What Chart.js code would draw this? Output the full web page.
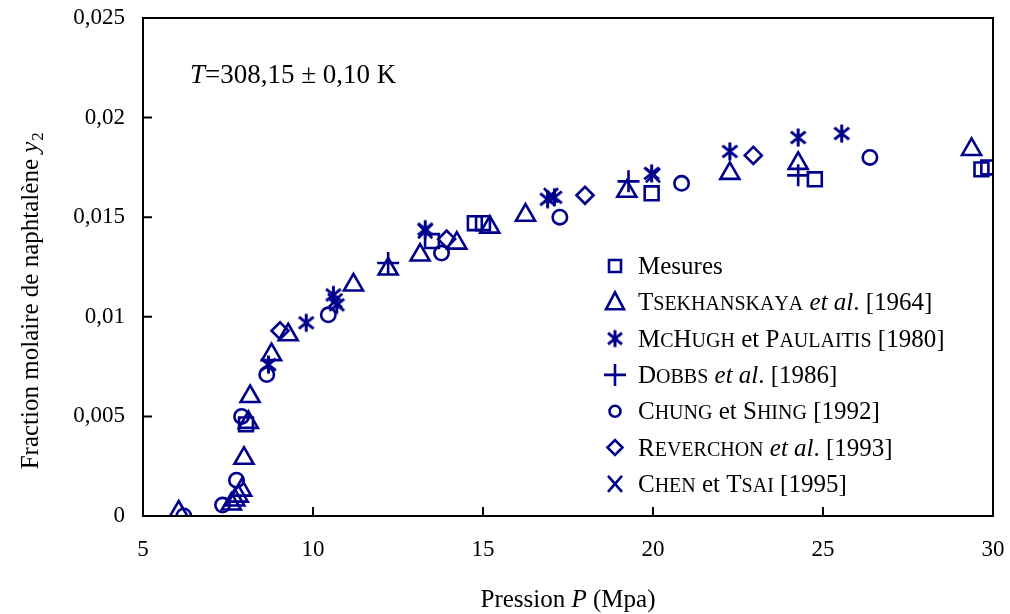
<!DOCTYPE html>
<html>
<head>
<meta charset="utf-8">
<script src="https://cdn.jsdelivr.net/npm/chart.js"></script>
<style>
body { margin: 0; background: #fff; }
canvas { display: block; }
</style>
</head>
<body>
<canvas id="myChart" width="1010" height="614"></canvas>
<script>
// pressure (MPa) / mole fraction y2 for each source
var mesuresX = [8.03, 13.5, 14.76, 15.0, 19.96, 24.76, 29.66, 29.86];
var mesuresY = [0.0046, 0.0138, 0.0147, 0.0147, 0.0162, 0.0169, 0.0174, 0.0175];

var tsekX = [6.05, 7.6, 7.7, 7.8, 7.9, 7.97, 8.1, 8.15, 8.78, 9.27, 11.19, 12.21, 13.15, 14.23, 15.2, 16.25, 19.23, 22.26, 24.27, 29.37];
var tsekY = [0.0002, 0.0006, 0.0008, 0.001, 0.0013, 0.0029, 0.0047, 0.006, 0.0081, 0.0091, 0.0116, 0.0124, 0.0131, 0.0137, 0.0145, 0.0151, 0.0163, 0.0172, 0.0177, 0.0184];

var mchughX = [8.69, 9.8, 10.6, 10.7, 13.3, 16.9, 17.1, 19.96, 22.26, 24.27, 25.55];
var mchughY = [0.0076, 0.0097, 0.0111, 0.0106, 0.0144, 0.0159, 0.016, 0.0172, 0.0183, 0.019, 0.0192];

var dobbsX = [12.21, 19.28, 24.27];
var dobbsY = [0.0127, 0.0168, 0.0171];

var chungX = [6.2, 7.34, 7.75, 7.9, 8.64, 10.45, 13.78, 17.26, 20.84, 26.38];
var chungY = [0.0, 0.00055, 0.0018, 0.005, 0.0071, 0.0101, 0.0132, 0.015, 0.0167, 0.018];

var reverchonX = [9.03, 13.93, 18.0, 22.95];
var reverchonY = [0.0093, 0.0139, 0.0161, 0.0181];

var chenX = [10.65, 13.3, 17.0, 20.0];
var chenY = [0.0108, 0.0143, 0.0161, 0.0171];

var yTicks = [0, 0.005, 0.01, 0.015, 0.02, 0.025];
var xTicks = [5, 10, 15, 20, 25, 30];

var navy = '#00008c';
var serif = "'Liberation Serif', 'DejaVu Serif', serif";

function pts(xs, ys) {
    var out = [];
    for (var i = 0; i < xs.length; i++) out.push({x: xs[i], y: ys[i]});
    return out;
}

// asterisk without horizontal bar (McHugh marker)
function makeStar(size, lw) {
    var c = document.createElement('canvas');
    c.width = size; c.height = size;
    var g = c.getContext('2d');
    var m = size / 2, r = size / 2 - 1.5, d = r * 0.82;
    g.strokeStyle = navy;
    g.lineWidth = lw;
    g.beginPath();
    g.moveTo(m, m - r); g.lineTo(m, m + r);
    g.moveTo(m - d, m - d * 0.8); g.lineTo(m + d, m + d * 0.8);
    g.moveTo(m + d, m - d * 0.8); g.lineTo(m - d, m + d * 0.8);
    g.stroke();
    return c;
}
var starImg = makeStar(21, 3);
var starLegend = makeStar(20, 3);

function ds(label, xs, ys, style, r) {
    return {
        label: label,
        data: pts(xs, ys),
        showLine: false,
        pointStyle: style,
        pointRadius: r,
        pointHoverRadius: r,
        borderColor: navy,
        backgroundColor: 'rgba(0,0,0,0)',
        pointBorderWidth: 2.6,
        borderWidth: 2.6
    };
}

var datas = [
    ds('Mesures', mesuresX, mesuresY, 'rect', 9.8),
    ds('Tsekhanskaya', tsekX, tsekY, 'triangle', 11),
    ds('McHugh', mchughX, mchughY, starImg, 10.5),
    ds('Dobbs', dobbsX, dobbsY, 'cross', 11),
    ds('Chung', chungX, chungY, 'circle', 7.2),
    ds('Reverchon', reverchonX, reverchonY, 'rectRot', 8.5),
    ds('Chen', chenX, chenY, 'crossRot', 10)
];

// legend rows: [text, kind] kind: n normal, s small caps, i italic
var legendRows = [
    {mark: 'rect', parts: [['Mesures', 'n']]},
    {mark: 'triangle', parts: [['Tsekhanskaya', 's'], [' et al', 'i'], ['. [1964]', 'n']]},
    {mark: 'star', parts: [['McHugh', 's'], [' et ', 'n'], ['Paulaitis', 's'], [' [1980]', 'n']]},
    {mark: 'cross', parts: [['Dobbs', 's'], [' et al', 'i'], ['. [1986]', 'n']]},
    {mark: 'circle', parts: [['Chung', 's'], [' et ', 'n'], ['Shing', 's'], [' [1992]', 'n']]},
    {mark: 'rectRot', parts: [['Reverchon', 's'], [' et al', 'i'], ['. [1993]', 'n']]},
    {mark: 'crossRot', parts: [['Chen', 's'], [' et ', 'n'], ['Tsai', 's'], [' [1995]', 'n']]}
];

function drawParts(ctx, parts, x, y, size) {
    ctx.textBaseline = 'alphabetic';
    ctx.textAlign = 'left';
    for (var p = 0; p < parts.length; p++) {
        var txt = parts[p][0], kind = parts[p][1];
        if (kind == 's') {
            for (var k = 0; k < txt.length; k++) {
                var ch = txt[k];
                var low = ch != ch.toUpperCase();
                ctx.font = (low ? Math.round(size * 0.8) : size) + 'px ' + serif;
                ctx.fillText(ch.toUpperCase(), x, y);
                x += ctx.measureText(ch.toUpperCase()).width;
            }
        } else {
            ctx.font = (kind == 'i' ? 'italic ' : '') + size + 'px ' + serif;
            ctx.fillText(txt, x, y);
            x += ctx.measureText(txt).width;
        }
    }
    return x;
}

function partsWidth(ctx, parts, size) {
    var w = 0;
    for (var p = 0; p < parts.length; p++) {
        ctx.font = (parts[p][1] == 'i' ? 'italic ' : '') + size + 'px ' + serif;
        w += ctx.measureText(parts[p][0]).width;
    }
    return w;
}

function drawMark(ctx, kind, x, y) {
    ctx.save();
    ctx.strokeStyle = navy;
    ctx.lineWidth = 2.6;
    ctx.beginPath();
    if (kind == 'rect') {
        ctx.rect(x - 6, y - 6, 12, 12);
    } else if (kind == 'triangle') {
        ctx.moveTo(x, y - 10); ctx.lineTo(x + 9, y + 7); ctx.lineTo(x - 9, y + 7); ctx.closePath();
    } else if (kind == 'cross') {
        ctx.moveTo(x - 11, y); ctx.lineTo(x + 11, y);
        ctx.moveTo(x, y - 11); ctx.lineTo(x, y + 11);
    } else if (kind == 'circle') {
        ctx.arc(x, y, 5.5, 0, Math.PI * 2);
    } else if (kind == 'rectRot') {
        ctx.moveTo(x - 7.5, y); ctx.lineTo(x, y - 7.5); ctx.lineTo(x + 7.5, y); ctx.lineTo(x, y + 7.5); ctx.closePath();
    } else if (kind == 'crossRot') {
        ctx.moveTo(x - 7, y - 8); ctx.lineTo(x + 7, y + 8);
        ctx.moveTo(x + 7, y - 8); ctx.lineTo(x - 7, y + 8);
    }
    ctx.stroke();
    if (kind == 'star') ctx.drawImage(starLegend, x - 10, y - 10);
    ctx.restore();
}

var decorations = {
    id: 'decorations',
    afterDraw: function (chart) {
        var ctx = chart.ctx;
        var a = chart.chartArea;
        var xs = chart.scales.x, ys = chart.scales.y;
        ctx.save();
        // frame
        ctx.strokeStyle = '#000';
        ctx.lineWidth = 2;
        ctx.strokeRect(a.left, a.top, a.right - a.left, a.bottom - a.top);
        // inside ticks
        ctx.beginPath();
        for (var i = 0; i < yTicks.length; i++) {
            var py = ys.getPixelForValue(yTicks[i]);
            ctx.moveTo(a.left, py); ctx.lineTo(a.left + 9, py);
        }
        for (var j = 0; j < xTicks.length; j++) {
            var px = xs.getPixelForValue(xTicks[j]);
            ctx.moveTo(px, a.bottom); ctx.lineTo(px, a.bottom - 9);
        }
        ctx.stroke();

        ctx.fillStyle = '#000';
        // annotation
        drawParts(ctx, [['T', 'i'], ['=308,15 \u00b1 0,10 K', 'n']], 190, 83, 27);

        // x title
        var xt = [['Pression ', 'n'], ['P', 'i'], [' (Mpa)', 'n']];
        var cx = (a.left + a.right) / 2 - partsWidth(ctx, xt, 25) / 2;
        drawParts(ctx, xt, cx, 607, 25);

        // y title
        ctx.save();
        ctx.translate(38, 300);
        ctx.rotate(-Math.PI / 2);
        var yt = [['Fraction molaire de naphtal\u00e8ne ', 'n'], ['y', 'i']];
        var sx = -(partsWidth(ctx, yt, 25) + 11) / 2;
        var ex = drawParts(ctx, yt, sx, 0, 25);
        ctx.font = '17px ' + serif;
        ctx.fillText('2', ex + 1, 5);
        ctx.restore();

        // legend
        for (var r = 0; r < legendRows.length; r++) {
            var ly = 266 + r * 36.3;
            drawMark(ctx, legendRows[r].mark, 615, ly);
            ctx.fillStyle = '#000';
            drawParts(ctx, legendRows[r].parts, 638, ly + 8, 25);
        }
        ctx.restore();
    }
};

var ctx = document.getElementById('myChart');
var myChart = new Chart(ctx, {
    type: 'scatter',
    data: { datasets: datas },
    options: {
        responsive: false,
        animation: false,
        layout: { padding: { left: 0, right: 17, top: 18, bottom: 0 } },
        plugins: { legend: { display: false }, tooltip: { enabled: false } },
        scales: {
            x: {
                type: 'linear',
                min: 5, max: 30,
                afterFit: function (s) { s.height = 98; },
                grid: { display: false, drawTicks: true, tickLength: 18 },
                border: { display: false },
                ticks: {
                    stepSize: 5,
                    padding: 2,
                    color: '#000',
                    font: { family: serif, size: 23 },
                    maxRotation: 0
                }
            },
            y: {
                type: 'linear',
                min: 0, max: 0.025,
                afterFit: function (s) { s.width = 143; },
                grid: { display: false, drawTicks: true, tickLength: 15 },
                border: { display: false },
                ticks: {
                    stepSize: 0.005,
                    padding: 3,
                    color: '#000',
                    font: { family: serif, size: 23 },
                    callback: function (v) {
                        return Number(v.toFixed(3)).toString().replace('.', ',');
                    }
                }
            }
        }
    },
    plugins: [decorations]
});
</script>
</body>
</html>
